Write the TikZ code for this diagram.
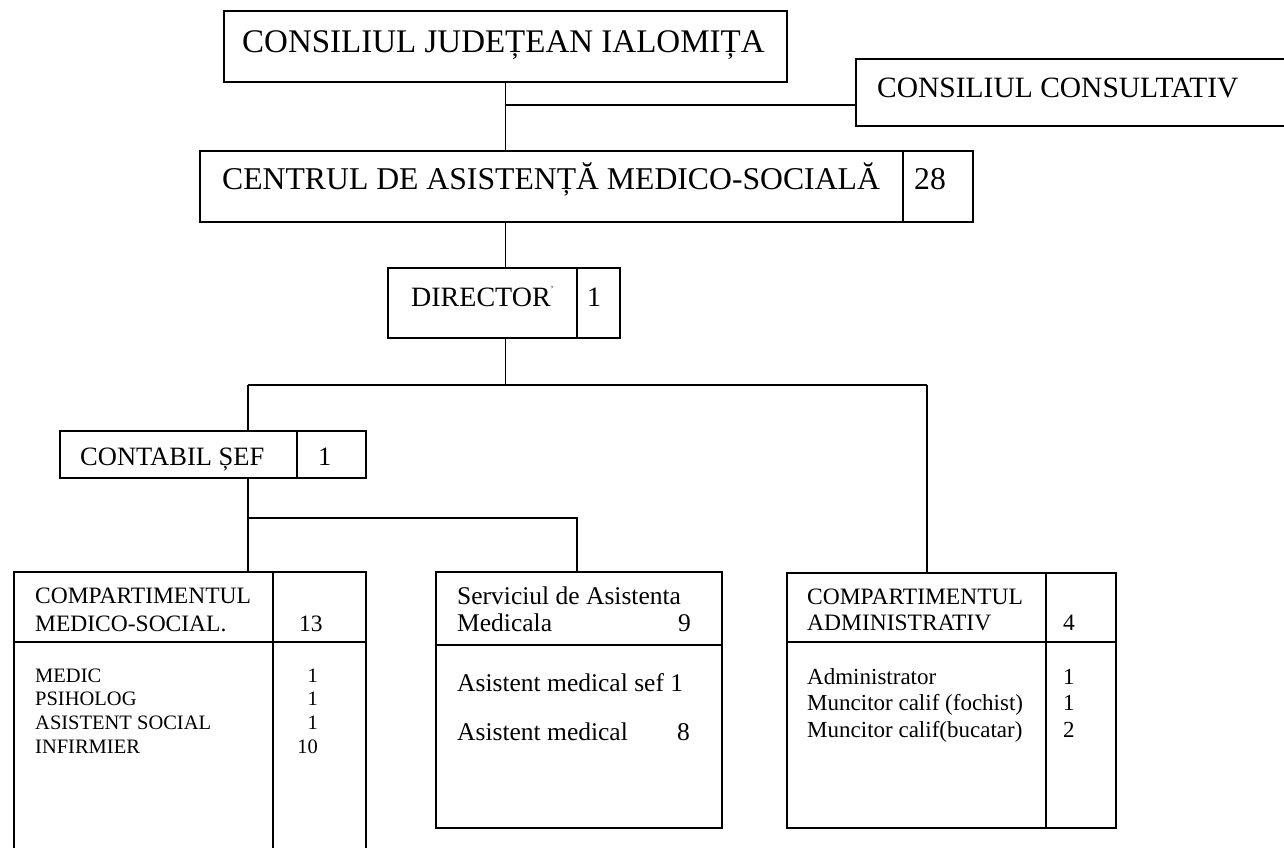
\documentclass[tikz,border=0pt]{standalone}
\usepackage{fontspec}
\setmainfont{Liberation Serif}
\usepackage{tikz}
\usetikzlibrary{positioning}
\newcommand{\setfs}[2]{\fontsize{#1}{#2}\selectfont}
\tikzset{
  frame/.style={
    rectangle, draw=black, line width=1.5pt, anchor=north west,
    inner sep=0pt, outer sep=0pt
  },
  txt/.style={anchor=base west, inner sep=0pt, text=black},
  cnt/.style={anchor=base east, inner sep=0pt, text=black},
  link/.style={line width=1.5pt, color=black}
}

\begin{document}
\begin{tikzpicture}[
  x=1pt, y=-1pt,
  node distance=0pt
]
\useasboundingbox (0,0) rectangle (1284,847);

\node[frame, minimum width=563pt, minimum height=71pt] (judet) at (224,11) {};
\node[txt, font=\setfs{33}{38}] (judettxt) at (242,52) {CONSILIUL JUDEȚEAN IALOMIȚA};

\node[frame, minimum width=460pt, minimum height=67pt] (consult) at (856,59) {};
\node[txt, font=\setfs{29.5}{34}] (consulttxt) at (877,97) {CONSILIUL CONSULTATIV};

\node[frame, minimum width=703pt, minimum height=71pt] (centru) at (200,151) {};
\node[frame, minimum width=70pt, minimum height=71pt, right=of centru] (centrunr) {};
\node[txt, font=\setfs{31.7}{36}] (centrutxt) at (222,189) {CENTRUL DE ASISTENȚĂ MEDICO-SOCIALĂ};
\node[txt, font=\setfs{31.7}{36}] (centrucnt) at (914,189) {28};

\node[frame, minimum width=189pt, minimum height=70pt] (dir) at (388,268) {};
\node[frame, minimum width=43pt, minimum height=70pt, right=of dir] (dirnr) {};
\node[txt, font=\setfs{28}{32}] (dirtxt) at (411,306) {DIRECTOR\raisebox{14pt}{\setfs{9}{9}'}};
\node[txt, font=\setfs{28}{32}] (dircnt) at (587,306) {1};

\node[frame, minimum width=237pt, minimum height=47pt] (contabil) at (60,431) {};
\node[frame, minimum width=69pt, minimum height=47pt, right=of contabil] (contabilnr) {};
\node[txt, font=\setfs{26.5}{30}] (contabiltxt) at (80,465) {CONTABIL ȘEF};
\node[txt, font=\setfs{26.5}{30}] (contabilcnt) at (318,465) {1};

% compartimentul medico-social
\node[frame, minimum width=352pt, minimum height=290pt] (medico) at (14,572) {};
\draw[link] ([yshift=-70pt]medico.north west) -- ([yshift=-70pt]medico.north east);
\draw[link] ([xshift=-93pt]medico.north east) -- ([xshift=-93pt]medico.south east);
\node[txt, font=\setfs{23.5}{28}] (medicohd) at (35,603)
  {\begin{tabular}[t]{@{}l@{}}COMPARTIMENTUL\\MEDICO-SOCIAL.\end{tabular}};
\node[txt, font=\setfs{23.5}{28}] (medicosum) at (299,631) {13};
\node[txt, font=\setfs{20.5}{23.7}] (medicolist) at (35,682)
  {\begin{tabular}[t]{@{}l@{}}MEDIC\\PSIHOLOG\\ASISTENT SOCIAL\\INFIRMIER\end{tabular}};
\node[cnt, font=\setfs{20.5}{23.7}] (medicocnt) at (318,682)
  {\begin{tabular}[t]{@{}r@{}}1\\1\\1\\10\end{tabular}};

% serviciul de asistenta medicala
\node[frame, minimum width=286pt, minimum height=256pt] (serv) at (436,572) {};
\draw[link] ([yshift=-73pt]serv.north west) -- ([yshift=-73pt]serv.north east);
\node[txt, font=\setfs{25.5}{27}] (servhd) at (457,604)
  {\begin{tabular}[t]{@{}l@{}}Serviciul de Asistenta\\Medicala\end{tabular}};
\node[txt, font=\setfs{25.5}{27}] (servsum) at (678,631) {9};
\node[txt, font=\setfs{25.5}{29}] (servsef) at (457,691) {Asistent medical sef 1};
\node[txt, font=\setfs{25.5}{29}] (servasist) at (457,740) {Asistent medical};
\node[txt, font=\setfs{25.5}{29}] (servcnt) at (677,740) {8};

% compartimentul administrativ
\node[frame, minimum width=329pt, minimum height=255pt] (admin) at (787,573) {};
\draw[link] ([yshift=-69pt]admin.north west) -- ([yshift=-69pt]admin.north east);
\draw[link] ([xshift=-70pt]admin.north east) -- ([xshift=-70pt]admin.south east);
\node[txt, font=\setfs{23.5}{26}] (adminhd) at (807,604)
  {\begin{tabular}[t]{@{}l@{}}COMPARTIMENTUL\\ADMINISTRATIV\end{tabular}};
\node[txt, font=\setfs{23.5}{26}] (adminsum) at (1063,630) {4};
\node[txt, font=\setfs{23}{26.5}] (adminlist) at (807,684)
  {\begin{tabular}[t]{@{}l@{}}Administrator\\Muncitor calif (fochist)\\Muncitor calif(bucatar)\end{tabular}};
\node[txt, font=\setfs{23}{26.5}] (admincnt) at (1063,684)
  {\begin{tabular}[t]{@{}l@{}}1\\1\\2\end{tabular}};

% legaturi
\coordinate (consjoin) at (505.5,105);
\coordinate (busL) at (248,385);
\coordinate (busR) at (927,385);
\coordinate (forkL) at (248,518);
\coordinate (forkR) at (577,518);
\draw[link] (judet.south) -- (judet.south |- centru.north);
\draw[link] (consjoin) -- (consjoin -| consult.west);
\draw[link] (judet.south |- centru.south) -- (judet.south |- dir.north);
\draw[link] (judet.south |- dir.south) -- (judet.south |- busL);
\draw[link] (busL) -- (busR);
\draw[link] (busL) -- (busL |- contabil.north);
\draw[link] (busR) -- (busR |- admin.north);
\draw[link] (busL |- contabil.south) -- (busL |- medico.north);
\draw[link] (forkL) -- (forkR) -- (forkR |- serv.north);
\end{tikzpicture}
\end{document}
